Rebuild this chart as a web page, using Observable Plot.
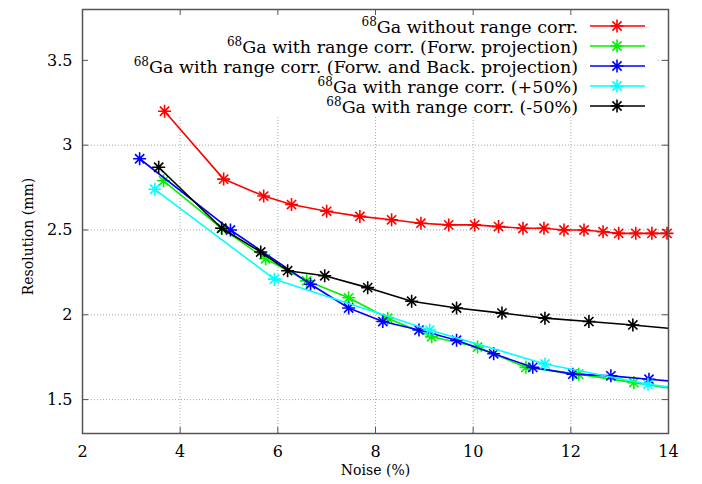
<!DOCTYPE html>
<html><head><meta charset="utf-8">
<script src="https://cdn.jsdelivr.net/npm/d3@7"></script>
<script src="https://cdn.jsdelivr.net/npm/@observablehq/plot@0.6"></script>
<style>body{margin:0;background:#fff} svg{display:block}</style>
</head><body><div id="chart"></div>
<script>
// ---- data ----
const xTicks = [2, 4, 6, 8, 10, 12, 14];
const yTicks = [1.5, 2, 2.5, 3, 3.5];

const seriesNames = [
  "Ga without range corr.",
  "Ga with range corr. (Forw. projection)",
  "Ga with range corr. (Forw. and Back. projection)",
  "Ga with range corr. (+50%)",
  "Ga with range corr. (-50%)"
];
const seriesColors = ["#ff0000", "#00f000", "#0000ff", "#00ffff", "#000000"];

const redX = [3.68, 4.89, 5.71, 6.28, 7.00, 7.68, 8.33, 8.93, 9.50, 10.03, 10.52, 11.02, 11.45, 11.86, 12.27, 12.66, 12.98, 13.33, 13.66, 13.97];
const redY = [3.20, 2.80, 2.70, 2.65, 2.61, 2.58, 2.56, 2.54, 2.53, 2.53, 2.52, 2.51, 2.51, 2.50, 2.50, 2.49, 2.48, 2.48, 2.48, 2.48];

const greenX = [3.66, 4.85, 5.75, 6.59, 7.45, 8.25, 9.15, 10.09, 11.08, 12.16, 13.29, 14.4];
const greenY = [2.79, 2.51, 2.33, 2.20, 2.10, 1.98, 1.87, 1.81, 1.69, 1.65, 1.60, 1.55];

const blueX = [3.17, 5.03, 6.67, 7.45, 8.15, 8.89, 9.66, 10.42, 11.22, 12.04, 12.82, 13.60, 14.4];
const blueY = [2.92, 2.50, 2.18, 2.04, 1.96, 1.91, 1.85, 1.77, 1.69, 1.65, 1.64, 1.62, 1.60];

const cyanX = [3.48, 5.93, 9.11, 11.47, 13.58, 14.4];
const cyanY = [2.74, 2.21, 1.91, 1.71, 1.59, 1.56];

const blackX = [3.56, 4.85, 5.65, 6.20, 6.96, 7.84, 8.74, 9.66, 10.59, 11.47, 12.37, 13.27, 14.4];
const blackY = [2.87, 2.51, 2.37, 2.26, 2.23, 2.16, 2.08, 2.04, 2.01, 1.98, 1.96, 1.94, 1.91];

const xLabel = "Noise (%)";
const yLabel = "Resolution (mm)";
const isotope = "68";

// ---- build ----
const allX = [redX, greenX, blueX, cyanX, blackX];
const allY = [redY, greenY, blueY, cyanY, blackY];
const series = seriesNames.map((name, i) => ({
  name, color: seriesColors[i],
  data: allX[i].map((x, j) => ({x, y: allY[i][j]}))
}));

const W = 702, H = 484, mL = 82, mR = 34, mT = 9, mB = 51;
const innerW = W - mL - mR, innerH = H - mT - mB;
const FONT = "'DejaVu Serif', serif";

// 8-spoke gnuplot-like asterisk
const star = {
  draw(ctx, size) {
    const r = Math.sqrt(size / Math.PI);
    const d = r * Math.SQRT1_2;
    ctx.moveTo(-r, 0); ctx.lineTo(r, 0);
    ctx.moveTo(0, -r); ctx.lineTo(0, r);
    ctx.moveTo(-d, -d); ctx.lineTo(d, d);
    ctx.moveTo(-d, d); ctx.lineTo(d, -d);
  }
};

const seriesMarks = series.flatMap(s => [
  Plot.line(s.data, {x: "x", y: "y", stroke: s.color, strokeWidth: 1.6, clip: true}),
  Plot.dot(s.data, {x: "x", y: "y", filter: d => d.x <= 14, symbol: star, r: 6.5, stroke: s.color, strokeWidth: 1.6, fill: "none"})
]);

const gridStyle = {stroke: "#aaaaaa", strokeOpacity: 1, strokeWidth: 1, strokeDasharray: "1,2"};
const tickStyle = {stroke: "#555", strokeWidth: 1};

const plot = Plot.plot({
  width: W, height: H,
  marginLeft: mL, marginRight: mR, marginTop: mT, marginBottom: mB,
  style: {fontFamily: FONT, fontSize: "16px", background: "white", color: "black"},
  x: {domain: [2, 14]},
  y: {domain: [1.3, 3.8]},
  marks: [
    Plot.gridX(xTicks, gridStyle),
    Plot.gridY(yTicks, gridStyle),
    ...seriesMarks,
    Plot.ruleX(xTicks, {x: d => d, insetTop: innerH - 6, ...tickStyle}),
    Plot.ruleX(xTicks, {x: d => d, insetBottom: innerH - 6, ...tickStyle}),
    Plot.ruleY(yTicks, {y: d => d, insetRight: innerW - 6, ...tickStyle}),
    Plot.ruleY(yTicks, {y: d => d, insetLeft: innerW - 6, ...tickStyle}),
    Plot.frame({stroke: "#555", strokeWidth: 1.5}),
    Plot.axisX(xTicks, {tickSize: 0, tickPadding: 12, label: null, fontSize: 16, tickFormat: d => String(d)}),
    Plot.axisY(yTicks, {tickSize: 0, tickPadding: 10, label: null, fontSize: 16, tickFormat: d => String(d)}),
    Plot.text([xLabel], {frameAnchor: "bottom", dy: 41, fontSize: 14, fill: "black", textAnchor: "middle"}),
    Plot.text([yLabel], {frameAnchor: "left", rotate: -90, dx: -54, dy: 15, fontSize: 14, fill: "black", textAnchor: "middle"})
  ]
});
document.getElementById("chart").appendChild(plot);

// ---- opaque key box (hides grid beneath, like gnuplot's key) ----
const svg = d3.select(plot);
const grids = plot.querySelectorAll('[aria-label="y-grid"]');
const lastGrid = grids[grids.length - 1];
const keyBg = document.createElementNS("http://www.w3.org/2000/svg", "rect");
keyBg.setAttribute("x", mL + 1.5);
keyBg.setAttribute("y", mT + 1.5);
keyBg.setAttribute("width", 656 - mL - 1.5);
keyBg.setAttribute("height", 116 - mT - 1.5);
keyBg.setAttribute("fill", "white");
lastGrid.parentNode.insertBefore(keyBg, lastGrid.nextSibling);

// ---- key ----
const key = svg.append("g").attr("font-family", FONT);
const textRight = 578, sampleX1 = 590, sampleX2 = 645, sampleMid = 617;
const rowY0 = 33, rowStep = 20;
series.forEach((s, i) => {
  const yb = rowY0 + i * rowStep;
  const t = key.append("text").attr("x", textRight).attr("y", yb)
    .attr("text-anchor", "end").attr("font-size", 17.5).attr("fill", "black");
  t.append("tspan").attr("font-size", 12).attr("dy", -7).text(isotope);
  t.append("tspan").attr("dy", 7).text(s.name);
  const ly = yb - 7;
  key.append("line").attr("x1", sampleX1).attr("x2", sampleX2).attr("y1", ly).attr("y2", ly)
    .attr("stroke", s.color).attr("stroke-width", 1.6);
  const p = d3.path(); star.draw(p, Math.PI * 42);
  key.append("path").attr("d", p.toString()).attr("transform", `translate(${sampleMid},${ly})`)
    .attr("stroke", s.color).attr("stroke-width", 1.6).attr("fill", "none");
});
</script></body></html>
